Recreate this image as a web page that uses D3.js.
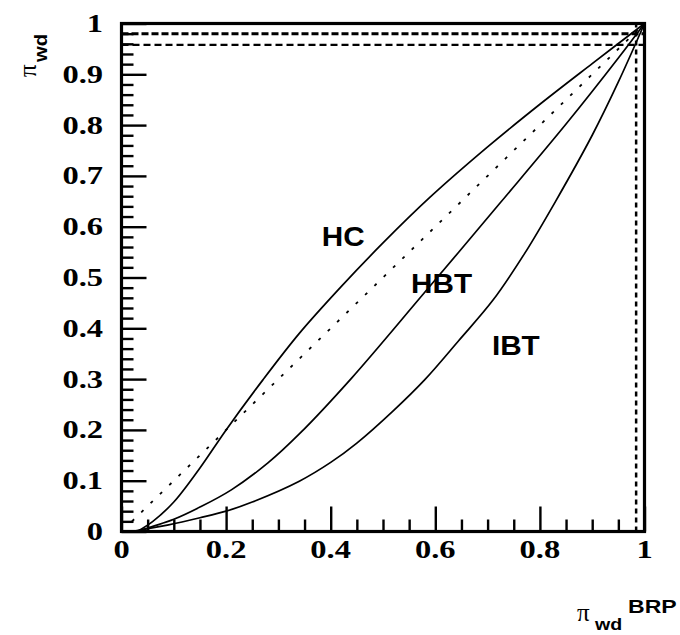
<!DOCTYPE html>
<html><head><meta charset="utf-8">
<script src="https://cdn.jsdelivr.net/npm/d3@7"></script>
<style>body{margin:0;background:#fff}svg{display:block}</style>
</head><body>
<svg id="c" width="680" height="635"></svg>
<script>
// ---- data ----
const hcX  = [0.03, 0.06, 0.10, 0.15, 0.20, 0.27, 0.34, 0.42, 0.50, 0.59, 0.70, 0.80, 0.90, 1.0];
const hcY  = [0.00, 0.020, 0.058, 0.125, 0.200, 0.298, 0.390, 0.482, 0.568, 0.658, 0.757, 0.841, 0.921, 1.0];
const hbtX = [0.03, 0.06, 0.10, 0.15, 0.21, 0.28, 0.34, 0.44, 0.575, 0.725, 0.85, 0.95, 1.0];
const hbtY = [0.00, 0.010, 0.024, 0.048, 0.082, 0.135, 0.192, 0.302, 0.465, 0.648, 0.802, 0.932, 1.0];
const ibtX = [0.02, 0.09, 0.15, 0.20, 0.25, 0.34, 0.40, 0.45, 0.52, 0.58, 0.645, 0.71, 0.77, 0.83, 0.90, 0.95, 1.0];
const ibtY = [0.00, 0.013, 0.027, 0.040, 0.058, 0.099, 0.136, 0.174, 0.238, 0.299, 0.376, 0.455, 0.546, 0.650, 0.780, 0.885, 1.0];
const diagX = [0.02, 1.0];
const hRefLines = [0.980, 0.958];
const vRefLines = [0.984];
const xTickLabels = ["0", "0.2", "0.4", "0.6", "0.8", "1"];
const yTickLabels = ["0", "0.1", "0.2", "0.3", "0.4", "0.5", "0.6", "0.7", "0.8", "0.9", "1"];
const curveLabels = [
  {text: "HC",  x: 0.424, y: 0.581},
  {text: "HBT", x: 0.612, y: 0.490},
  {text: "IBT", x: 0.754, y: 0.367}
];

// ---- layout ----
const svg = d3.select("#c");
const x = d3.scaleLinear().domain([0, 1]).range([121.5, 644.5]);
const y = d3.scaleLinear().domain([0, 1]).range([531.5, 23.5]);

function stretch(sel, k) {
  sel.each(function () {
    const w = this.getComputedTextLength();
    d3.select(this).attr("textLength", w * k).attr("lengthAdjust", "spacingAndGlyphs");
  });
}

// reference dashed lines
svg.append("g").selectAll("line").data(hRefLines).join("line")
  .attr("x1", x(0)).attr("x2", x(1))
  .attr("y1", d => y(d)).attr("y2", d => y(d))
  .attr("stroke", "#000").attr("stroke-width", (d, i) => i === 0 ? 3 : 2.2)
  .attr("stroke-dasharray", (d, i) => i === 0 ? "7,3" : "7,4");
svg.append("g").selectAll("line").data(vRefLines).join("line")
  .attr("y1", y(0)).attr("y2", y(1))
  .attr("x1", d => x(d)).attr("x2", d => x(d))
  .attr("stroke", "#000").attr("stroke-width", 2.5)
  .attr("stroke-dasharray", "5,4");

// diagonal
svg.append("line")
  .attr("x1", x(diagX[0])).attr("y1", y(diagX[0]))
  .attr("x2", x(diagX[1])).attr("y2", y(diagX[1]))
  .attr("stroke", "#000").attr("stroke-width", 1.8)
  .attr("stroke-dasharray", "3,10");

// curves
const line = d3.line().x(d => x(d[0])).y(d => y(d[1])).curve(d3.curveCatmullRom.alpha(0.5));
[[hcX, hcY], [hbtX, hbtY], [ibtX, ibtY]].forEach(([xs, ys]) => {
  svg.append("path").datum(xs.map((v, i) => [v, ys[i]]))
    .attr("d", line).attr("fill", "none")
    .attr("stroke", "#000").attr("stroke-width", 1.7);
});

// axes (ticks pointing inward)
const xAxis = d3.axisTop(x).tickValues(d3.range(0, 1.0001, 0.05)).tickFormat("").tickSize(12);
const gx = svg.append("g").attr("transform", `translate(0,${y(0)})`).call(xAxis);
gx.selectAll(".tick line").attr("stroke-width", 2.4)
  .attr("y2", d => (Math.round(d * 100) % 20 === 0) ? -25 : -12);
gx.select(".domain").remove();

const yAxis = d3.axisRight(y).tickValues(d3.range(0, 1.0001, 0.02)).tickFormat("").tickSize(12);
const gy = svg.append("g").attr("transform", `translate(${x(0)},0)`).call(yAxis);
gy.selectAll(".tick line").attr("stroke-width", 2.4)
  .attr("x2", d => (Math.round(d * 100) % 10 === 0) ? 25 : 12);
gy.select(".domain").remove();

// frame
svg.append("rect").attr("x", x(0)).attr("y", y(1))
  .attr("width", x(1) - x(0)).attr("height", y(0) - y(1))
  .attr("fill", "none").attr("stroke", "#000").attr("stroke-width", 3.2);

// tick labels
const xl = svg.append("g").selectAll("text").data(xTickLabels).join("text")
  .attr("x", d => x(+d)).attr("y", 558)
  .attr("text-anchor", "middle")
  .attr("font-family", "Liberation Serif, serif").attr("font-weight", "bold")
  .attr("font-size", 25).text(d => d);
stretch(xl, 1.3);
const yl = svg.append("g").selectAll("text").data(yTickLabels).join("text")
  .attr("x", 103).attr("y", d => y(+d) + 8.5)
  .attr("text-anchor", "end")
  .attr("font-family", "Liberation Serif, serif").attr("font-weight", "bold")
  .attr("font-size", 25).text(d => d);
stretch(yl, 1.3);

// curve labels
const cl = svg.append("g").selectAll("text").data(curveLabels).join("text")
  .attr("x", d => x(d.x)).attr("y", d => y(d.y) + 10)
  .attr("text-anchor", "middle")
  .attr("font-family", "Liberation Sans, Arial, sans-serif").attr("font-weight", "bold")
  .attr("font-size", 27).text(d => d.text);
stretch(cl, 1.1);

// axis titles
const sans = "Liberation Sans, sans-serif";
svg.append("text").attr("x", 577).attr("y", 621)
  .attr("font-family", "Liberation Serif, serif").attr("font-size", 25).text("π");
const xs1 = svg.append("text").attr("x", 595).attr("y", 630)
  .attr("font-family", sans).attr("font-weight", "bold").attr("font-size", 17).text("wd");
stretch(xs1, 1.15);
const xs2 = svg.append("text").attr("x", 628).attr("y", 613)
  .attr("font-family", sans).attr("font-weight", "bold").attr("font-size", 18).text("BRP");
stretch(xs2, 1.28);

const yt = svg.append("g").attr("transform", "translate(36,77) rotate(-90)");
yt.append("text").attr("x", 0).attr("y", 0)
  .attr("font-family", "Liberation Serif, serif").attr("font-size", 25).text("π");
const ys1 = yt.append("text").attr("x", 15).attr("y", 11)
  .attr("font-family", sans).attr("font-weight", "bold").attr("font-size", 18).text("wd");
stretch(ys1, 1.12);
</script>
</body></html>
